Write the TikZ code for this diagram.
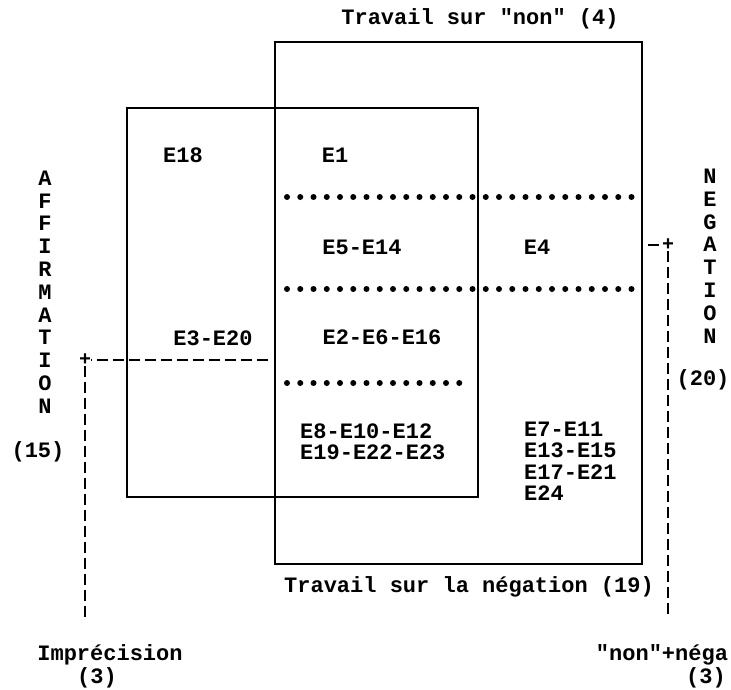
\documentclass[tikz,border=0pt]{standalone}
\usepackage{fontspec}
\setmonofont{Liberation Mono}
\usetikzlibrary{positioning}

\begin{document}
\begin{tikzpicture}[
    x=1pt, y=-1pt,
    lbl/.style={font=\ttfamily\bfseries\fontsize{22}{21.5}\selectfont, inner sep=0pt, align=left},
    vert/.style={font=\ttfamily\bfseries\fontsize{22}{22.8}\selectfont, inner sep=0pt, align=center},
    plus/.style={font=\ttfamily\bfseries\fontsize{20}{20}\selectfont, inner sep=0pt},
    zone/.style={line width=1.8pt},
    link/.style={line width=1.6pt, dash pattern=on 11pt off 5pt}
]
\useasboundingbox (0,0) rectangle (731,689);

% --- Zones ---
\draw[zone] (275,42) rectangle (642,564);   % travail sur la negation
\draw[zone] (127,108) rectangle (478,497);  % affirmation

% --- Rangees de points ---
\foreach \i in {0,...,26} \fill (287+13.25*\i,197) circle (3pt);
\foreach \i in {0,...,26} \fill (287+13.25*\i,289) circle (3pt);
\foreach \i in {0,...,13} \fill (287+13.25*\i,383) circle (3pt);

% --- Titres ---
\node[lbl] (tnon) at (480,19) {Travail sur "non" (4)};
\node[lbl] (tneg) at (469,587) {Travail sur la négation (19)};

% --- Cases ---
\node[lbl] (e18) at (183,155) {E18};
\node[lbl] (e1) at (335,155) {E1};
\node[lbl] (e5) at (362,247) {E5-E14};
\node[lbl] (e4) at (537,247) {E4};
\node[lbl] (e3) at (213,338) {E3-E20};
\node[lbl] (e2) at (382,337) {E2-E6-E16};
\node[lbl, anchor=west] (e8) at (300,442) {E8-E10-E12\\E19-E22-E23};
\node[lbl, anchor=west] (e7) at (524,461) {E7-E11\\E13-E15\\E17-E21\\E24};

% --- Cotes ---
\node[vert] (aff) at (45,292) {A\\F\\F\\I\\R\\M\\A\\T\\I\\O\\N};
\node[lbl] (aff15) at (38,452) {(15)};
\node[vert] (neg) at (710,256) {N\\E\\G\\A\\T\\I\\O\\N};
\node[lbl] (neg20) at (703,380) {(20)};

% --- Bas ---
\node[lbl] (impr) at (110,655) {Imprécision};
\node[lbl] (impr3) at (97,678) {(3)};
\node[lbl] (nonneg) at (662,655) {"non"+néga};
\node[lbl] (nonneg3) at (706,678) {(3)};

% === TRAITS ===
\node[plus] (plusA) at (85,360) {+};
\coordinate (affE) at (268,360);
\coordinate (imprT) at (85,620);
\draw[link] (affE) -- (plusA);
\draw[link] (plusA) -- (imprT);

\node[plus] (plusN) at (668,245) {+};
\coordinate (negE) at (648,245);
\coordinate (nonT) at (668,618);
\draw[link] (negE) -- (plusN);
\draw[link] (plusN) -- (nonT);

\end{tikzpicture}
\end{document}
